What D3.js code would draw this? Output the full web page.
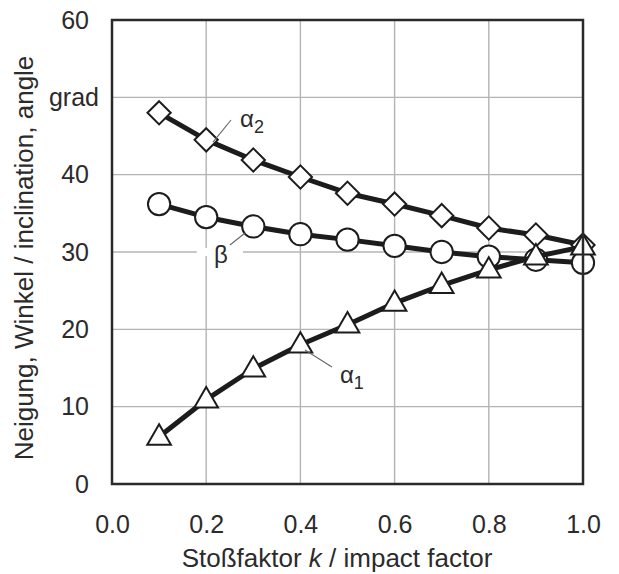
<!DOCTYPE html>
<html>
<head>
<meta charset="utf-8">
<script src="https://cdn.jsdelivr.net/npm/d3@7"></script>
<style>
  body { margin: 0; background: #fff; }
  text { font-family: 'Liberation Sans', Arial, sans-serif; fill: #2b2b2b; }
</style>
</head>
<body>
<div id="chart"></div>
<script>
// impact factor k
var kValues = [0.1, 0.2, 0.3, 0.4, 0.5, 0.6, 0.7, 0.8, 0.9, 1.0]
// angles in grad
var alpha2 = [48.0, 44.5, 41.9, 39.7, 37.6, 36.2, 34.7, 33.1, 32.2, 30.9]
var beta = [36.2, 34.5, 33.3, 32.3, 31.6, 30.8, 30.0, 29.4, 29.0, 28.6]
var alpha1 = [6.1, 10.9, 14.9, 18.0, 20.6, 23.4, 25.7, 27.7, 29.4, 30.7]

var xTicks = [0.0, 0.2, 0.4, 0.6, 0.8, 1.0]
var yTicks = [0, 10, 20, 30, 40, 50, 60]
var yTickLabels = ['0', '10', '20', '30', '40', 'grad', '60']

var margin = { top: 20, left: 112, right: 36, bottom: 90 }
var width = 619 - margin.left - margin.right
var height = 574 - margin.top - margin.bottom

var svg = d3
  .select('#chart')
  .append('svg')
  .attr('width', width + margin.left + margin.right)
  .attr('height', height + margin.top + margin.bottom)

var g = svg.append('g').attr('transform', `translate(${margin.left},${margin.top})`)

var x = d3.scaleLinear().domain([0, 1]).range([0, width])
var y = d3.scaleLinear().domain([0, 60]).range([height, 0])

// grid
g.selectAll('.vgrid')
  .data(xTicks.slice(1, -1))
  .enter()
  .append('line')
  .attr('x1', d => x(d))
  .attr('x2', d => x(d))
  .attr('y1', 0)
  .attr('y2', height)
  .attr('stroke', '#b4b4b4')
  .attr('stroke-width', 1.4)

g.selectAll('.hgrid')
  .data(yTicks.slice(1, -1))
  .enter()
  .append('line')
  .attr('x1', 0)
  .attr('x2', width)
  .attr('y1', d => y(d))
  .attr('y2', d => y(d))
  .attr('stroke', '#b4b4b4')
  .attr('stroke-width', 1.4)

// knock out the grid behind the beta label
g.append('rect')
  .attr('x', x(0.18))
  .attr('y', y(30) - 4)
  .attr('width', x(0.278) - x(0.18))
  .attr('height', 8)
  .attr('fill', '#fff')

// axes (labels only)
var yAxis = d3
  .axisLeft(y)
  .tickValues(yTicks)
  .tickSize(0)
  .tickPadding(23)
  .tickFormat((d, i) => yTickLabels[i])

g.append('g')
  .call(yAxis)
  .call(a => a.select('.domain').remove())
  .selectAll('text')
  .style('font-size', '25px')
  .attr('fill', '#2b2b2b')
  .attr('dx', d => (d === 50 ? 10 : 0))

var xAxis = d3
  .axisBottom(x)
  .tickValues(xTicks)
  .tickSize(0)
  .tickPadding(31)
  .tickFormat(d3.format('.1f'))

g.append('g')
  .attr('transform', `translate(0,${height})`)
  .call(xAxis)
  .call(a => a.select('.domain').remove())
  .selectAll('text')
  .style('font-size', '25px')
  .attr('fill', '#2b2b2b')

// series
var series = [
  { name: 'alpha2', values: alpha2, symbol: d3.symbolDiamond2, size: 345 },
  { name: 'beta', values: beta, symbol: d3.symbolCircle, size: 390 },
  { name: 'alpha1', values: alpha1, symbol: d3.symbolTriangle2, size: 400 }
]

var line = d3
  .line()
  .x(d => x(d[0]))
  .y(d => y(d[1]))

series.forEach(function(s) {
  var pts = kValues.map((k, i) => [k, s.values[i]])
  var sg = g.append('g').attr('class', s.name)

  sg.append('path')
    .datum(pts)
    .attr('d', line)
    .attr('fill', 'none')
    .attr('stroke', '#1c1c1c')
    .attr('stroke-width', 5)
    .attr('stroke-linejoin', 'round')

  var sym = d3.symbol().type(s.symbol).size(s.size)

  sg.selectAll('path.mark')
    .data(pts)
    .enter()
    .append('path')
    .attr('class', 'mark')
    .attr('d', sym)
    .attr('transform', d => {
      var dy = s.name === 'alpha1' ? 1 : 0
      return `translate(${x(d[0])},${y(d[1]) + dy})`
    })
    .attr('fill', '#fff')
    .attr('stroke', '#1c1c1c')
    .attr('stroke-width', 2)
})

// frame
g.append('rect')
  .attr('width', width)
  .attr('height', height)
  .attr('fill', 'none')
  .attr('stroke', '#2a2a2a')
  .attr('stroke-width', 2.5)

// curve labels with leader lines
var labels = [
  { main: 'α', sub: '2', from: [0.2144, 44.2], to: [0.2527, 47.07], at: [0.2718, 46.2], anchor: 'start' },
  { main: 'β', sub: '', from: [0.2824, 32.46], to: [0.2505, 30.9], at: [0.2314, 28.6], anchor: 'middle' },
  { main: 'α', sub: '1', from: [0.4098, 17.33], to: [0.467, 15.13], at: [0.484, 13.1], anchor: 'start' }
]

labels.forEach(function(l) {
  g.append('line')
    .attr('x1', x(l.from[0]))
    .attr('y1', y(l.from[1]))
    .attr('x2', x(l.to[0]))
    .attr('y2', y(l.to[1]))
    .attr('stroke', '#666')
    .attr('stroke-width', 1.1)

  var t = g
    .append('text')
    .attr('x', x(l.at[0]))
    .attr('y', y(l.at[1]))
    .attr('text-anchor', l.anchor)
    .style('font-size', '24px')
  t.append('tspan').text(l.main)
  if (l.sub) {
    t.append('tspan')
      .attr('dy', 6)
      .style('font-size', '18px')
      .text(l.sub)
  }
})

// axis titles
var xTitle = svg
  .append('text')
  .attr('x', 337)
  .attr('y', 567)
  .attr('text-anchor', 'middle')
  .style('font-size', '26px')
xTitle.append('tspan').text('Stoßfaktor ')
xTitle.append('tspan').style('font-style', 'italic').text('k')
xTitle.append('tspan').text(' / impact factor')

svg
  .append('text')
  .attr('transform', 'translate(33,258) rotate(-90)')
  .attr('text-anchor', 'middle')
  .style('font-size', '26px')
  .text('Neigung, Winkel / inclination, angle')
</script>
</body>
</html>
